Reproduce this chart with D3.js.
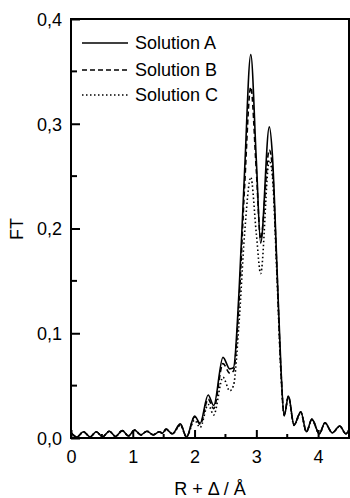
<!DOCTYPE html>
<html>
<head>
<meta charset="utf-8">
<script src="https://cdn.jsdelivr.net/npm/d3@7"></script>
<style>
  html, body { margin: 0; padding: 0; background: #fff; }
  svg { display: block; }
  text { font-family: "Liberation Sans", Arial, Helvetica, sans-serif; fill: #000; }
</style>
</head>
<body>
<svg id="chart" width="350" height="498"></svg>
<script>
// ---- data ----
const R = [0.00,0.10,0.20,0.31,0.41,0.51,0.62,0.72,0.83,0.93,1.03,1.13,1.23,1.33,1.43,1.48,1.54,1.64,1.77,1.87,
           2.00,2.09,2.22,2.31,2.46,2.57,2.63,2.72,2.81,2.91,3.00,3.07,3.21,3.26,3.33,3.40,3.45,
           3.52,3.61,3.72,3.81,3.90,4.02,4.11,4.23,4.35,4.45,4.50];
const solutionA = [0.005,0.001,0.006,0.001,0.006,0.001,0.0065,0.0015,0.007,0.002,0.0075,0.003,0.0065,0.003,0.006,0.0045,0.0085,0.004,0.0135,0.001,
           0.021,0.014,0.041,0.031,0.077,0.066,0.067,0.140,0.255,0.366,0.265,0.186,0.297,0.270,0.170,0.065,0.021,
           0.040,0.0125,0.025,0.006,0.018,0.004,0.0145,0.005,0.0115,0.004,0.008];
const solutionB = [0.005,0.001,0.006,0.001,0.006,0.001,0.0065,0.0015,0.007,0.002,0.0075,0.003,0.0065,0.003,0.006,0.0045,0.0085,0.004,0.013,0.001,
           0.020,0.013,0.037,0.028,0.071,0.062,0.064,0.130,0.240,0.335,0.255,0.190,0.275,0.258,0.165,0.062,0.022,
           0.040,0.0125,0.025,0.006,0.018,0.004,0.0145,0.005,0.0115,0.004,0.008];
const solutionC = [0.005,0.001,0.006,0.001,0.006,0.001,0.0065,0.0015,0.007,0.002,0.0075,0.003,0.0065,0.003,0.006,0.0045,0.008,0.004,0.012,0.001,
           0.017,0.010,0.032,0.022,0.058,0.045,0.050,0.110,0.195,0.249,0.195,0.157,0.265,0.250,0.160,0.060,0.022,
           0.039,0.012,0.024,0.006,0.017,0.004,0.014,0.005,0.011,0.004,0.008];
const seriesNames = ["Solution A", "Solution B", "Solution C"];
const yTicks = [0, 0.1, 0.2, 0.3, 0.4];
const xTicks = [0, 1, 2, 3, 4];

// ---- layout ----
const svg = d3.select("#chart");
const L = 71, Rt = 349, T = 19, B = 438;
const x = d3.scaleLinear().domain([0, 4.5]).range([L, Rt]);
const y = d3.scaleLinear().domain([0, 0.4]).range([B, T]);
const fs = 18;

const dashes = [null, "5,3", "1.5,2.5"];
const allSeries = [solutionA, solutionB, solutionC];

// curves
const line = d3.line().x(d => x(d[0])).y(d => y(d[1])).curve(d3.curveMonotoneX);
svg.append("clipPath").attr("id", "clip").append("rect")
  .attr("x", L).attr("y", T).attr("width", Rt - L).attr("height", B - T);
[2, 1, 0].forEach(i => {
  const pts = R.map((r, k) => [r, allSeries[i][k]]);
  svg.append("path")
    .attr("d", line(pts))
    .attr("fill", "none")
    .attr("stroke", "#000")
    .attr("stroke-width", 1.6)
    .attr("stroke-dasharray", dashes[i])
    .attr("clip-path", "url(#clip)");
});

// frame
svg.append("rect").attr("x", L).attr("y", T).attr("width", Rt - L).attr("height", B - T)
  .attr("fill", "none").attr("stroke", "#000").attr("stroke-width", 2);

// axes with inward ticks
const fmt = d => d3.format(".1f")(d).replace(".", ",");
const yAxis = d3.axisLeft(y).tickValues(yTicks).tickFormat(fmt).tickSizeInner(-9).tickSizeOuter(0).tickPadding(9);
const gy = svg.append("g").attr("transform", `translate(${L},0)`).call(yAxis);
const xAxis = d3.axisBottom(x).tickValues(xTicks).tickFormat(d3.format("d")).tickSizeInner(-8).tickSizeOuter(0).tickPadding(12);
const gx = svg.append("g").attr("transform", `translate(0,${B})`).call(xAxis);
[gx, gy].forEach(g => {
  g.select(".domain").remove();
  g.selectAll(".tick line").attr("stroke", "#000").attr("stroke-width", 2);
  g.selectAll(".tick text").attr("font-size", fs).attr("font-family", "Liberation Sans, Arial, sans-serif");
});
gy.selectAll(".tick text").attr("dy", "0.36em");
// minor ticks
const yMinor = [0.05, 0.15, 0.25, 0.35];
const xMinor = [0.5, 1.5, 2.5, 3.5];
svg.selectAll(".ymin").data(yMinor).enter().append("line")
  .attr("x1", L).attr("x2", L + 6).attr("y1", d => y(d)).attr("y2", d => y(d))
  .attr("stroke", "#000").attr("stroke-width", 2);
svg.selectAll(".xmin").data(xMinor).enter().append("line")
  .attr("x1", d => x(d)).attr("x2", d => x(d)).attr("y1", B).attr("y2", B - 4)
  .attr("stroke", "#000").attr("stroke-width", 2);

// axis titles
svg.append("text").attr("x", 210).attr("y", 495).attr("text-anchor", "middle")
  .attr("font-size", fs).text("R + Δ / Å");
svg.append("text").attr("transform", "translate(23,229) rotate(-90)").attr("text-anchor", "middle")
  .attr("font-size", fs).text("FT");

// legend
const legY = [43, 70, 95];
seriesNames.forEach((name, i) => {
  svg.append("line").attr("x1", 82).attr("x2", 128).attr("y1", legY[i]).attr("y2", legY[i])
    .attr("stroke", "#000").attr("stroke-width", 1.5).attr("stroke-dasharray", dashes[i]);
  svg.append("text").attr("x", 135).attr("y", legY[i]).attr("dy", "0.36em")
    .attr("font-size", fs).text(name);
});
</script>
</body>
</html>
